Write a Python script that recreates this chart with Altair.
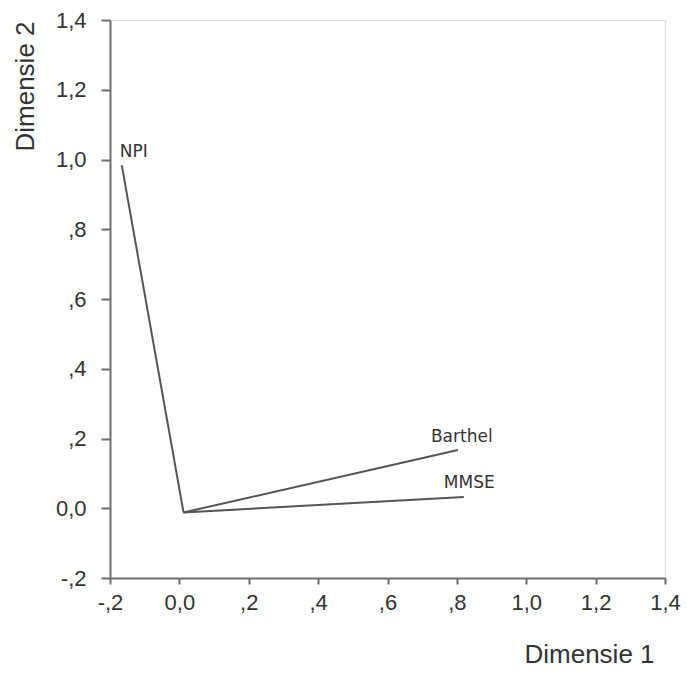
import altair as alt
import pandas as pd

variables = ["NPI", "Barthel", "MMSE"]
dim1 = [-0.166, 0.803, 0.820]
dim2 = [0.983, 0.167, 0.032]
origin_x = [0.012, 0.012, 0.012]
origin_y = [-0.012, -0.012, -0.012]
ticks = [-0.2, 0.0, 0.2, 0.4, 0.6, 0.8, 1.0, 1.2, 1.4]

df = pd.DataFrame({"var": variables, "x": dim1, "y": dim2, "x0": origin_x, "y0": origin_y})

label_expr = ("datum.value == 0 ? '0,0' : "
              "replace(replace(replace(format(datum.value, '.1f'), '\u2212', '-'), '0.', '.'), '.', ',')")

ax_common = dict(values=ticks, labelExpr=label_expr, grid=False, domainColor="#6e6e6e",
                 domainWidth=2, tickColor="#6e6e6e", tickWidth=2, labelFont="Liberation Sans",
                 labelFontSize=22, labelColor="#333333", titleFont="Liberation Sans",
                 titleFontSize=26, titleFontWeight="normal", titleColor="#333333",
                 labelFlush=False, labelOverlap=False)

xs = alt.Scale(domain=[-0.2, 1.4], nice=False, zero=False)
ys = alt.Scale(domain=[-0.2, 1.4], nice=False, zero=False)

base = alt.Chart(df)

rules = base.mark_rule(color="#555555", strokeWidth=2).encode(
    x=alt.X("x0:Q", scale=xs, axis=alt.Axis(title="Dimensie 1", tickSize=6, labelPadding=8,
                                              titleAnchor="end", titleAlign="center",
                                              titleX=479, titleY=84, titleBaseline="alphabetic",
                                              **ax_common)),
    y=alt.Y("y0:Q", scale=ys, axis=alt.Axis(title="Dimensie 2", tickSize=9, labelPadding=15,
                                              titleAngle=-90, titleAlign="center",
                                              titleBaseline="middle", titleX=-85, titleY=66,
                                              **ax_common)),
    x2="x:Q",
    y2="y:Q",
)

offsets = {"NPI": (-2, -8), "Barthel": (-27, -8), "MMSE": (-20, -9)}
texts = []
for v in variables:
    dx, dy = offsets[v]
    texts.append(
        base.transform_filter(alt.datum.var == v).mark_text(
            align="left", baseline="alphabetic", dx=dx, dy=dy,
            font="DejaVu Sans", fontSize=17, color="#333333"
        ).encode(x=alt.X("x:Q", scale=xs), y=alt.Y("y:Q", scale=ys), text="var:N")
    )

chart = alt.layer(rules, *texts).properties(
    width=555, height=558,
    autosize=alt.AutoSizeParams(type="none"),
    padding={"left": 102, "top": 12, "right": 20, "bottom": 90},
).configure_view(stroke="#6e6e6e", strokeWidth=2).configure(background="white")

chart.save("out.html", embed_options={"renderer": "svg", "actions": False})
